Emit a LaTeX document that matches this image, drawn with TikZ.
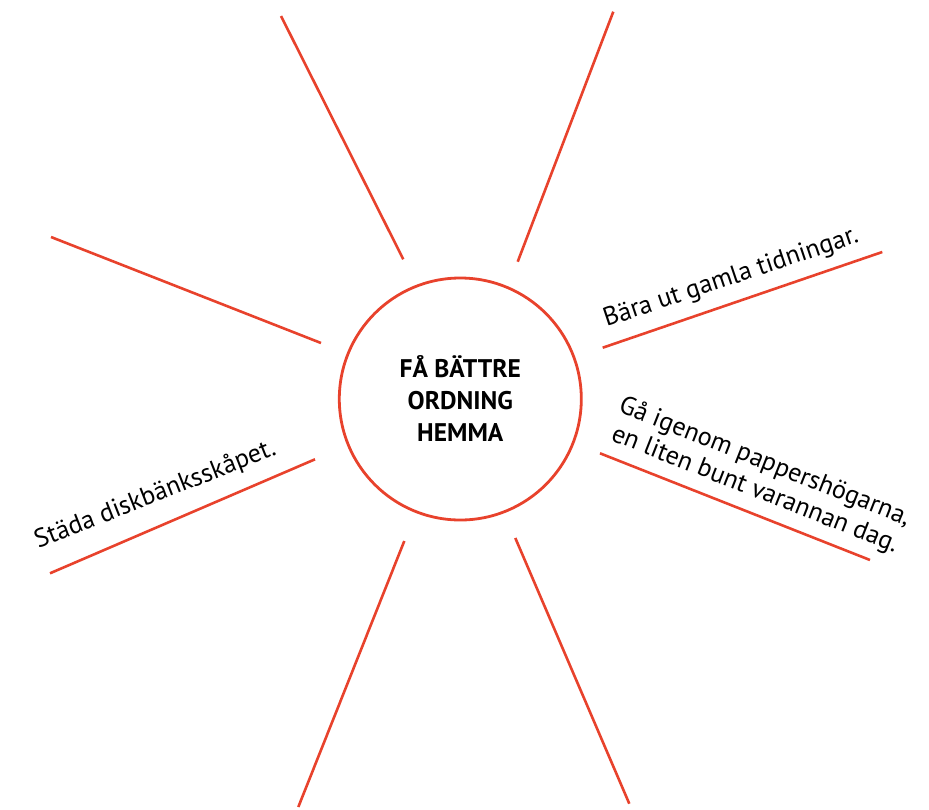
\documentclass[tikz,border=0pt]{standalone}
\usepackage{fontspec}
\setmainfont{PT Sans}
\definecolor{spoke}{RGB}{232,66,44}
\begin{document}
\begin{tikzpicture}[x=1pt,y=-1pt,
  spokeline/.style={draw=spoke,line width=2.6pt},
  lbl/.style={inner sep=0pt,anchor=base west,font=\fontsize{26}{30}\selectfont}]
\useasboundingbox (0,0) rectangle (929,809);
\node[circle,draw=spoke,line width=2.8pt,minimum size=242pt,inner sep=0pt,align=center,
  font=\fontsize{25.5}{32}\selectfont\bfseries] (hub) at (460.3,399) {FÅ BÄTTRE\\ORDNING\\HEMMA};
% spokes
\coordinate (a1) at (281,16);    \coordinate (a2) at (403.3,259.3);
\coordinate (b1) at (613.3,11.7); \coordinate (b2) at (517.7,261.7);
\coordinate (c1) at (51,237);    \coordinate (c2) at (321,343);
\coordinate (d1) at (882.3,252); \coordinate (d2) at (602.7,347.7);
\coordinate (e1) at (50,573.3);  \coordinate (e2) at (315,459.3);
\coordinate (f1) at (870,560);   \coordinate (f2) at (600,453.3);
\coordinate (g1) at (298.3,807); \coordinate (g2) at (404.3,541);
\coordinate (h1) at (629.3,803.7); \coordinate (h2) at (515.3,538);
\foreach \p in {a,b,c,d,e,f,g,h} {\draw[spokeline] (\p1) -- (\p2);}
% labels
\node[lbl,rotate=18.6] (l1) at (606.5,327) {Bära ut gamla tidningar.};
\node[lbl,rotate=21.5] (l2) at (38.3,548.5) {Städa diskbänksskåpet.};
\node[lbl,rotate=-21.6] (l3) at (617.5,411.5) {Gå igenom pappershögarna,};
\node[lbl,rotate=-21.6] (l4) at (610,440) {en liten bunt varannan dag.};
\end{tikzpicture}
\end{document}
